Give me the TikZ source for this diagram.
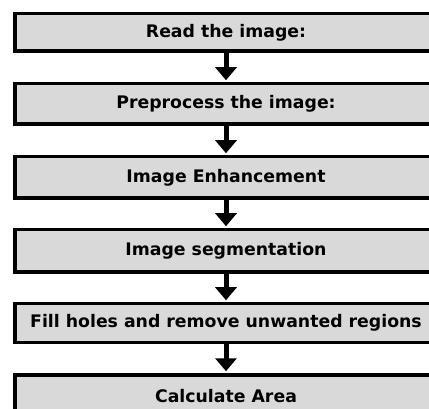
\documentclass[tikz,border=0pt]{standalone}
\usepackage{fontspec}
\setmainfont{DejaVu Sans}
\usetikzlibrary{arrows.meta}
\definecolor{boxgray}{HTML}{D9D9D9}
\tikzset{
  stepbox/.style={draw=black, fill=boxgray, line width=3.5pt, minimum width=422.5pt,
    minimum height=40pt, inner sep=0pt, font=\fontsize{17.3}{20}\selectfont\bfseries},
  flowarrow/.style={line width=5pt, -{Triangle[width=21pt,length=13pt]}, shorten >=1.75pt}
}
\begin{document}
\begin{tikzpicture}[x=1pt,y=-1pt]
\useasboundingbox (0,0) rectangle (429,409);
\begin{scope}
\clip (0,0) rectangle (429,409);
\node[stepbox, minimum height=37.5pt] (b1) at (226,32.5) {Read the image:};
\node[stepbox, minimum height=40.5pt] (b2) at (226,104) {Preprocess the image:};
\node[stepbox, minimum height=41.5pt] (b3) at (226,177.5) {Image Enhancement};
\node[stepbox, minimum height=42.5pt] (b4) at (226,251) {Image segmentation};
\node[stepbox, minimum height=38.5pt] (b5) at (226,323) {Fill holes and remove unwanted regions};
\node[stepbox, minimum height=42pt] (b6) at (226,395.75) {Calculate Area};
\draw[flowarrow] (b1.south) -- (b2.north);
\draw[flowarrow] (b2.south) -- (b3.north);
\draw[flowarrow] (b3.south) -- (b4.north);
\draw[flowarrow] (b4.south) -- (b5.north);
\draw[flowarrow] (b5.south) -- (b6.north);
\end{scope}
\end{tikzpicture}
\end{document}
